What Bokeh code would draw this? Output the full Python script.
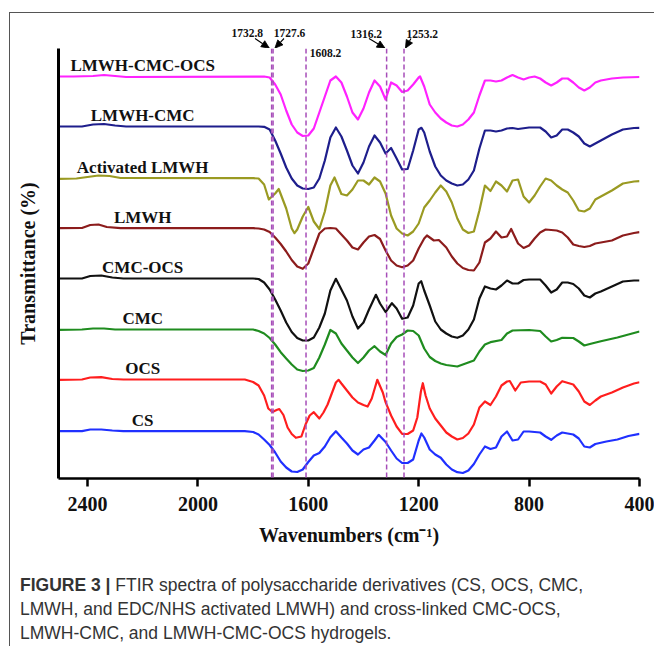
import math
from bokeh.plotting import figure
from bokeh.layouts import column
from bokeh.models import Range1d, FixedTicker, Span, Label, Div
from bokeh.core.properties import value
from bokeh.embed import file_html
from bokeh.resources import INLINE

# ---------------- data ----------------
series_names = ["LMWH-CMC-OCS", "LMWH-CMC", "Activated LMWH", "LMWH",
                "CMC-OCS", "CMC", "OCS", "CS"]
series_colors = ["#FF22FF", "#1E1E8C", "#9A9A22", "#8C1C1C",
                 "#111111", "#1F8C1F", "#FF1E1E", "#2030FF"]
series_offsets = [402, 352, 300, 250, 200, 149, 99, 47]

# (wavenumber cm-1, relative transmittance) pairs
spec_lmwh_cmc_ocs = [
    (2505, 0), (2450, 0), (2380, 0.5), (2340, 1.5), (2300, 0.5), (2260, -0.5),
    (1760, 0), (1740, -1), (1720, -8), (1700, -18), (1680, -34), (1660, -48),
    (1640, -56), (1620, -59.5), (1600, -59), (1580, -52), (1560, -36), (1540, -20),
    (1520, -4), (1500, 0), (1480, -6), (1460, -20), (1440, -36), (1420, -43),
    (1400, -32), (1380, -16), (1360, -4), (1340, -10), (1320, -23), (1300, -6),
    (1280, -9), (1260, -15.5), (1240, -14), (1220, -8), (1200, -1), (1195, 0),
    (1180, -10), (1160, -28), (1140, -36), (1120, -42), (1100, -46), (1080, -49),
    (1060, -50), (1040, -48), (1020, -43), (1000, -36), (980, -19), (960, -4),
    (940, -4), (920, -5), (900, -4), (880, -1), (860, 1.5), (840, -1), (820, -3),
    (800, -1), (780, 0), (760, -2), (740, -6), (720, -9), (700, -6), (680, -2),
    (660, -2), (640, -6), (620, -11), (600, -14), (580, -11), (560, -6), (540, -4),
    (500, -2), (460, -1), (400, -0.5)]

spec_lmwh_cmc = [
    (2505, 0), (2420, 0), (2380, 2), (2340, 2.5), (2300, 1), (2260, 0),
    (1780, 0), (1760, -0.3), (1740, -3), (1720, -14), (1700, -27), (1680, -41),
    (1660, -52), (1640, -59), (1620, -62), (1600, -62.5), (1580, -61), (1560, -52),
    (1540, -34), (1520, -11), (1500, -1), (1480, -10), (1460, -24), (1440, -39),
    (1420, -47), (1400, -36), (1380, -20), (1360, -9), (1340, -16), (1320, -27),
    (1300, -21.5), (1280, -32), (1260, -43), (1240, -42.5), (1220, -24), (1200, -3),
    (1190, -1.3), (1180, -6), (1160, -25), (1140, -40), (1120, -49), (1100, -54),
    (1080, -57), (1060, -59), (1040, -58), (1020, -53), (1000, -44), (980, -22),
    (960, -4), (940, -4), (920, -5), (900, -4), (880, -2), (860, -1.5), (840, -2.5),
    (800, -1), (760, -1), (740, -5), (720, -11), (700, -9), (680, -3), (660, -3),
    (640, -6), (620, -10), (600, -17), (580, -20), (560, -17), (540, -14),
    (500, -8), (460, -3), (420, -1.5), (400, -1.3)]

spec_activated_lmwh = [
    (2505, -0.3), (2440, 0), (2400, 1.5), (2360, 3), (2320, 2.5), (2280, 0.5),
    (1800, 0.3), (1780, 0), (1760, -6), (1743, -21), (1720, -15), (1707, -10.5),
    (1680, -30), (1660, -50), (1650, -54.7), (1640, -51), (1620, -38), (1600, -28.5),
    (1580, -43), (1560, -50.5), (1540, -33), (1520, -7), (1505, 1), (1480, -15.5),
    (1460, -17), (1440, -11), (1420, -2), (1400, -2), (1380, -6), (1360, 1),
    (1340, -3), (1320, -15), (1300, -37), (1280, -50), (1260, -55), (1240, -57),
    (1220, -53), (1200, -45), (1180, -29), (1160, -22), (1140, -14), (1120, -7),
    (1100, -13), (1080, -24), (1060, -40), (1040, -51), (1020, -54.5), (1000, -53),
    (980, -32), (960, -7), (940, -12.5), (920, -3), (900, -7), (880, -13), (860, -2),
    (840, -1), (820, -18), (800, -24), (780, -17), (760, -8), (740, 0), (720, -2),
    (700, -7), (680, -11), (660, -14), (640, -22), (620, -32), (600, -33),
    (580, -30), (560, -21), (540, -18), (500, -12), (460, -5), (420, -3), (400, -2.7)]

spec_lmwh = [
    (2505, 0.3), (2420, 0.5), (2390, 3.5), (2360, 4), (2330, 1.5), (2280, 0.3),
    (1800, 0.3), (1780, 0), (1760, -1), (1740, -3.5), (1720, -9), (1700, -15.5),
    (1680, -23), (1660, -31.5), (1640, -38), (1620, -40.3), (1600, -35), (1580, -20),
    (1560, -5), (1540, 0), (1520, 0.5), (1500, 0), (1480, -6), (1460, -12),
    (1440, -19), (1420, -21), (1400, -14), (1380, -8), (1360, -6.5), (1340, -10.5),
    (1320, -22), (1300, -32), (1280, -37), (1260, -38.7), (1240, -37), (1220, -32),
    (1200, -20), (1180, -10), (1170, -7), (1145, -12), (1127, -11.5), (1100, -19),
    (1080, -28), (1060, -35), (1040, -39.5), (1020, -41.5), (1000, -42), (980, -34),
    (960, -14), (940, -10), (920, -3), (900, -9), (880, -8), (865, -0.5), (840, -15),
    (820, -19.5), (800, -17), (780, -10), (760, -4), (740, -1), (720, -1.5),
    (700, -2), (680, -4), (660, -9), (640, -16), (620, -17.5), (600, -18.5),
    (580, -17.5), (560, -15), (540, -14), (500, -12), (460, -7), (420, -4.5), (400, -3.7)]

spec_cmc_ocs = [
    (2505, 0), (2420, 0), (2390, 2.5), (2350, 3), (2310, 1), (2270, 0),
    (1800, 0), (1780, -0.5), (1760, -4), (1740, -11), (1720, -21), (1700, -32),
    (1680, -44), (1660, -53.5), (1640, -59.5), (1620, -62), (1600, -62), (1580, -59),
    (1560, -49), (1540, -35), (1520, -12), (1500, -0.3), (1480, -11), (1460, -22),
    (1440, -38), (1420, -50), (1400, -44), (1380, -31), (1355, -16.3), (1340, -25),
    (1320, -33.5), (1297, -24.7), (1280, -30), (1260, -40.3), (1240, -39), (1220, -27),
    (1200, -5), (1191, -2.7), (1180, -12), (1160, -27), (1140, -43), (1120, -51),
    (1100, -55), (1080, -58), (1060, -59.3), (1040, -57), (1020, -51), (1000, -41),
    (980, -20), (960, -8), (940, -10), (920, -11), (900, -7), (880, -2), (860, -5),
    (840, -5), (820, -1.5), (800, -1), (760, -1), (740, -7), (720, -14), (700, -11),
    (680, -4), (660, -4), (640, -5.5), (620, -10), (600, -17), (580, -19),
    (560, -15), (540, -13), (500, -8), (460, -3), (420, -2), (400, -2)]

spec_cmc = [
    (2505, -0.3), (2420, 0), (2380, 1), (2340, 1), (2300, 0), (1800, 0),
    (1780, -1.5), (1760, -4), (1740, -8.5), (1720, -15), (1700, -22.7), (1680, -29),
    (1660, -35), (1640, -40), (1620, -41.5), (1600, -41), (1580, -38.5), (1560, -28),
    (1540, -15), (1520, -0.5), (1500, -4), (1480, -14), (1460, -21), (1440, -28),
    (1420, -33.5), (1400, -28), (1380, -21), (1360, -16.7), (1340, -22), (1320, -25.5),
    (1300, -14), (1280, -7.5), (1260, -5), (1240, -1), (1220, -1.5), (1200, -6),
    (1180, -19), (1160, -27.5), (1140, -31.5), (1120, -34), (1100, -35.5), (1060, -37),
    (1020, -33), (1000, -31), (980, -22), (960, -15), (940, -12.7), (900, -10.5),
    (880, -4), (860, -1), (800, -0.5), (760, -1.5), (740, -7), (720, -12),
    (700, -10.5), (680, -8.3), (640, -8.5), (620, -12), (600, -16), (580, -14.5),
    (540, -11.7), (480, -8), (440, -5), (400, -2)]

spec_ocs = [
    (2505, -0.3), (2420, 0), (2390, 2), (2350, 2.3), (2310, 0.5), (2270, 0),
    (1830, 0), (1800, -2.5), (1780, -6), (1760, -16), (1745, -29), (1730, -32.5),
    (1715, -30.5), (1705, -29.5), (1690, -35.5), (1675, -48), (1660, -54.5),
    (1645, -58.3), (1625, -57), (1610, -45), (1595, -36), (1580, -32.7), (1560, -39),
    (1545, -33), (1530, -25), (1500, -3), (1490, -0.3), (1480, -4), (1460, -11),
    (1440, -18), (1420, -23), (1400, -25.5), (1385, -27), (1370, -19), (1350, -0.3),
    (1330, -13), (1320, -22.7), (1300, -36), (1280, -47), (1260, -54.3), (1240, -54.5),
    (1220, -51), (1205, -38), (1192, -12), (1185, -3.7), (1175, -16), (1160, -29),
    (1140, -39), (1120, -46), (1100, -53), (1080, -57), (1060, -60), (1040, -58.5),
    (1020, -54), (1000, -45), (980, -28), (960, -22), (940, -25.5), (920, -17),
    (900, -6), (880, -2), (870, -1.5), (850, -11), (830, -3), (800, -2), (760, -2),
    (740, -5), (720, -14), (700, -7), (680, -1.7), (640, -5), (620, -12), (600, -22),
    (580, -25.5), (560, -21), (540, -17), (500, -13), (460, -8), (420, -4), (400, -2.7)]

spec_cs = [
    (2505, 0.3), (2420, 0.3), (2390, 2), (2350, 2), (2310, 1), (2270, 0.3),
    (1830, 0.3), (1800, -0.5), (1780, -3), (1760, -8), (1740, -13.5), (1720, -21),
    (1700, -30), (1680, -36), (1660, -40), (1640, -40.5), (1620, -38), (1600, -30.5),
    (1580, -24), (1560, -21.5), (1540, -15), (1520, -5.7), (1500, 0.3), (1480, -6),
    (1460, -12), (1440, -19), (1420, -23), (1400, -18), (1380, -16), (1360, -9),
    (1345, -3.3), (1320, -10.5), (1300, -19), (1280, -27), (1260, -31.5), (1240, -31.5),
    (1220, -28), (1200, -9), (1190, -2), (1180, -6), (1160, -18), (1140, -23),
    (1120, -26.3), (1100, -33), (1080, -38), (1060, -40.7), (1040, -41.5), (1020, -39),
    (1000, -32.5), (980, -23), (960, -15), (940, -17.5), (920, -16), (900, -5),
    (880, 0), (860, -9), (840, -8), (820, 0), (800, 0), (760, -1), (740, -5),
    (720, -8.3), (700, -4), (680, -1), (640, -3), (620, -7), (600, -15), (580, -16),
    (560, -12.5), (520, -10), (480, -8), (440, -4.5), (400, -2.3)]

spectra = [spec_lmwh_cmc_ocs, spec_lmwh_cmc, spec_activated_lmwh, spec_lmwh,
           spec_cmc_ocs, spec_cmc, spec_ocs, spec_cs]

peak_positions = [1732.8, 1727.6, 1608.2, 1316.2, 1253.2]
peak_labels = ["1732.8", "1727.6", "1608.2", "1316.2", "1253.2"]
x_ticks = [2400, 2000, 1600, 1200, 800, 400]

caption_bold = "FIGURE 3 |"
caption_lines = ["FTIR spectra of polysaccharide derivatives (CS, OCS, CMC,",
                 "LMWH, and EDC/NHS activated LMWH) and cross-linked CMC-OCS,",
                 "LMWH-CMC, and LMWH-CMC-OCS hydrogels."]

# ---------------- figures ----------------
SERIF = "Liberation Serif"
W = 644
BORDER_L, BORDER_R = 48, 15
X_START, X_END = 2505, 400
x_range = Range1d(X_START, X_END)

# main spectra figure
p = figure(width=W, height=510, output_backend="svg", toolbar_location=None,
           title=None, x_range=x_range, y_range=Range1d(0, 430),
           min_border_left=BORDER_L, min_border_right=BORDER_R, min_border_top=0,
           min_border_bottom=80, background_fill_color="white",
           border_fill_color="white", outline_line_color=None)
p.xgrid.visible = False
p.ygrid.visible = False

for spec, color, off in zip(spectra, series_colors, series_offsets):
    xs = [w for w, t in spec]
    ys = [off + t for w, t in spec]
    p.line(xs, ys, line_color=color, line_width=2.2, line_join="round")

label_wn = 2200
p.text(x=[label_wn] * len(series_names), y=[o + 11.5 for o in series_offsets],
       text=series_names, text_font=value(SERIF), text_font_style="bold",
       text_font_size="17px", text_align="center", text_baseline="middle",
       text_color="#111111")

for pk in peak_positions:
    p.add_layout(Span(location=pk, dimension="height", line_color="#A64DB8",
                      line_dash="5 3", line_width=1.5))

ann_font = dict(text_font=SERIF, text_font_style="bold", text_font_size="11.5px",
                text_color="#111111", text_baseline="middle")
p.add_layout(Label(x=1595, y=426, text=peak_labels[2], text_align="left", **ann_font))

p.xaxis.ticker = FixedTicker(ticks=x_ticks)
p.xaxis.minor_tick_line_color = None
p.xaxis.major_tick_out = 8
p.xaxis.major_tick_in = 0
p.xaxis.major_tick_line_width = 2.5
p.xaxis.major_tick_line_color = "black"
p.xaxis.axis_line_width = 2.5
p.xaxis.axis_line_color = "black"
p.xaxis.major_label_text_font = SERIF
p.xaxis.major_label_text_font_style = "bold"
p.xaxis.major_label_text_font_size = "20px"
p.xaxis.major_label_text_color = "#111111"
p.xaxis.major_label_standoff = 10
p.xaxis.axis_label = "Wavenumbers (cm\u207b\u00b9)"
p.xaxis.axis_label_text_font = SERIF
p.xaxis.axis_label_text_font_style = "bold"
p.xaxis.axis_label_text_font_size = "20px"
p.xaxis.axis_label_text_color = "#111111"
p.xaxis.axis_label_standoff = 10

p.yaxis.ticker = FixedTicker(ticks=[])
p.yaxis.major_tick_line_color = None
p.yaxis.minor_tick_line_color = None
p.yaxis.major_label_text_font_size = "0px"
p.yaxis.axis_line_width = 3
p.yaxis.axis_line_color = "black"
p.yaxis.axis_label = "Transmittance (%)"
p.yaxis.axis_label_text_font = SERIF
p.yaxis.axis_label_text_font_style = "bold"
p.yaxis.axis_label_text_font_size = "20px"
p.yaxis.axis_label_text_color = "#111111"
p.yaxis.axis_label_standoff = 20

# strip above the spectra carrying the peak annotations
TOP_H = 35
top = figure(width=W, height=TOP_H, output_backend="svg", toolbar_location=None,
             title=None, x_range=x_range, y_range=Range1d(0, TOP_H),
             x_axis_type=None, y_axis_type=None,
             min_border_left=BORDER_L, min_border_right=BORDER_R, min_border_top=0,
             min_border_bottom=0, background_fill_color="white",
             border_fill_color="white", outline_line_color=None)
top.grid.visible = False

arrow_labels = [peak_labels[i] for i in (0, 1, 3, 4)]
label_x = [1821, 1668, 1390, 1187]
label_y = [16, 16, 15, 15]
top.text(x=label_x, y=label_y, text=arrow_labels, text_font=value(SERIF),
         text_font_style="bold", text_font_size="11.5px", text_color="#111111",
         text_align="center", text_baseline="middle")

# arrows: tail -> tip (tip sits on the top of the matching dashed line)
tail_x = [1793, 1688, 1380, 1228]
tip_x = [1741, 1721, 1322, 1248]
tail_y = [10, 10, 10, 10]
tip_y = [0.3, 0.3, 0.3, 0.3]

ppw = (W - BORDER_L - BORDER_R) / (X_START - X_END)   # px per wavenumber
HEAD_LEN, HEAD_HALF = 8.0, 3.6                          # arrowhead size in px


def to_screen(x, y):
    return (X_START - x) * ppw, y


def to_data(sx, sy):
    return X_START - sx / ppw, sy


seg_x1, seg_y1, head_xs, head_ys = [], [], [], []
for x0, y0, x1, y1 in zip(tail_x, tail_y, tip_x, tip_y):
    s0 = to_screen(x0, y0)
    s1 = to_screen(x1, y1)
    dx, dy = s1[0] - s0[0], s1[1] - s0[1]
    L = math.hypot(dx, dy)
    ux, uy = dx / L, dy / L
    bx, by = s1[0] - ux * HEAD_LEN, s1[1] - uy * HEAD_LEN
    nx, ny = -uy, ux
    pts = [s1, (bx + nx * HEAD_HALF, by + ny * HEAD_HALF),
           (bx - nx * HEAD_HALF, by - ny * HEAD_HALF)]
    dpts = [to_data(*pt) for pt in pts]
    head_xs.append([pt[0] for pt in dpts])
    head_ys.append([pt[1] for pt in dpts])
    bdx, bdy = to_data(bx, by)
    seg_x1.append(bdx)
    seg_y1.append(bdy)

top.segment(x0=tail_x, y0=tail_y, x1=seg_x1, y1=seg_y1,
            line_color="black", line_width=1.1)
top.patches(xs=head_xs, ys=head_ys, fill_color="black", line_color="black",
            line_width=0.8)

cap_html = ('<div style="font-family: \'Liberation Sans\', Arial, sans-serif; '
            'font-size: 17.5px; line-height: 24px; color: #333333; '
            'padding: 15px 0 0 10px; white-space: nowrap;">'
            '<b>' + caption_bold + '</b> ' + '<br>'.join(caption_lines) + '</div>')
cap = Div(text=cap_html, width=W, height=88, margin=0)

layout = column(top, p, cap, spacing=0, margin=(12, 0, 0, 9),
                styles={"border-top": "1px solid #555555",
                        "border-left": "1px solid #555555"})

open("out.html", "w").write(file_html(layout, INLINE))
